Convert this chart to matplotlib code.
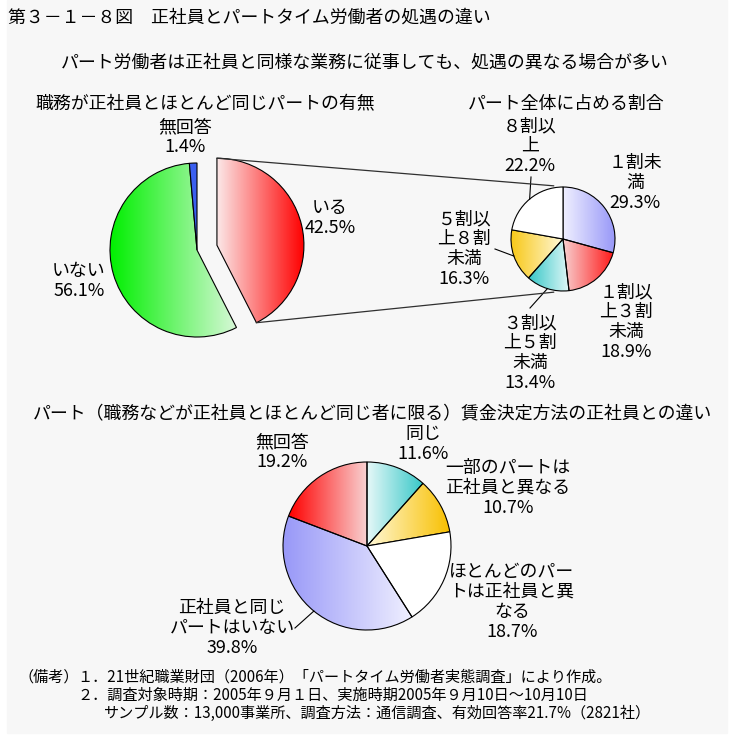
import numpy as np
import matplotlib.pyplot as plt
from matplotlib.patches import Rectangle
from matplotlib.colors import to_rgb

plt.rcParams['font.family'] = ['Noto Sans CJK JP', 'DejaVu Sans']

# pie 1: part-timers doing the same job as regular staff
duty_labels = ['いる', 'いない', '無回答']
duty_values = [42.5, 56.1, 1.4]

# pie 2: share of such part-timers among all part-timers
share_labels = ['１割未\n満', '１割以\n上３割\n未満', '３割以\n上５割\n未満', '５割以\n上８割\n未満', '８割以\n上']
share_values = [29.3, 18.9, 13.4, 16.3, 22.2]

# pie 3: wage decision method vs regular staff
wage_labels = ['同じ', '一部のパートは\n正社員と異なる', 'ほとんどのパー\nトは正社員と異\nなる',
               '正社員と同じ\nパートはいない', '無回答']
wage_values = [11.6, 10.7, 18.7, 39.8, 19.2]

W, H = 734, 740
FS = 12.9


def py(y):
    # picture y (from top) -> data y
    return H - y


def gradient_fill(ax, wedge, left, right):
    # horizontal gradient clipped to the wedge shape
    if right is None:
        wedge.set_facecolor(left)
        return
    ext = wedge.get_path().get_extents()
    t = np.linspace(0, 1, 256)[None, :, None]
    img = (1 - t) * np.array(to_rgb(left)) + t * np.array(to_rgb(right))
    im = ax.imshow(img, extent=[ext.x0, ext.x1, ext.y0, ext.y1], aspect='auto',
                   interpolation='bilinear', zorder=1)
    im.set_clip_path(wedge)
    wedge.set_facecolor('none')


def label(ax, x, y, text, size=FS, ha='center', step=20):
    lines = text.split('\n')
    n = len(lines)
    for i, line in enumerate(lines):
        ax.text(x, py(y + (i - (n - 1) / 2) * step), line, fontsize=size,
                ha=ha, va='center', zorder=5)


def edge_point(wedge, scale=1.0):
    th = np.radians((wedge.theta1 + wedge.theta2) / 2)
    cx, cy = wedge.center
    return cx + wedge.r * scale * np.cos(th), cy + wedge.r * scale * np.sin(th)


def draw_pie(ax, values, center, radius, fills, explode=None):
    wedges, _ = ax.pie(values, startangle=90, counterclock=False,
                       center=(center[0], py(center[1])), radius=radius,
                       explode=explode,
                       wedgeprops=dict(edgecolor='black', linewidth=0.8, zorder=2))
    for w, (a, b) in zip(wedges, fills):
        gradient_fill(ax, w, a, b)
    return wedges


fig = plt.figure(figsize=(W / 100, H / 100), dpi=100)
ax = fig.add_axes([0, 0, 1, 1])
ax.add_patch(Rectangle((7, py(733)), 720, 733, color='#f7f7f7', zorder=0))

# titles
ax.text(8, py(18), '第３－１－８図　正社員とパートタイム労働者の処遇の違い', fontsize=FS, ha='left', va='center')
label(ax, 365, 62, 'パート労働者は正社員と同様な業務に従事しても、処遇の異なる場合が多い')
label(ax, 205, 104, '職務が正社員とほとんど同じパートの有無')
label(ax, 566, 104, 'パート全体に占める割合')
label(ax, 372, 414, 'パート（職務などが正社員とほとんど同じ者に限る）賃金決定方法の正社員との違い')

# pie 1
duty_fills = [('#fbe8e8', '#ff0000'), ('#00f000', '#d8f8d8'), ('#3a5ff0', None)]
w1 = draw_pie(ax, duty_values, (197, 250), 87, duty_fills, explode=[20.5, 0, 0])
duty_pos = [(330, 218), (79, 281), (185, 137)]
for name, v, (x, y) in zip(duty_labels, duty_values, duty_pos):
    label(ax, x, y, f'{name}\n{v}%')

# pie 2
share_fills = [('#f0f0ff', '#9898f8'), ('#f8d0d0', '#ff1818'), ('#38c8c8', '#e4f8f8'),
               ('#f8c818', '#fff8d8'), ('white', None)]
w2 = draw_pie(ax, share_values, (563, 239), 52, share_fills)
share_pos = [(635, 183), (626, 322), (530, 353), (464, 249), (530, 146)]
share_lead = {2: (530, 308), 3: (495, 249), 4: (531, 177)}
for i, (name, v, (x, y)) in enumerate(zip(share_labels, share_values, share_pos)):
    label(ax, x, y, f'{name}\n{v}%')
    if i in share_lead:
        sx, sy = edge_point(w2[i])
        ex, ey = share_lead[i]
        ax.plot([sx, ex], [sy, py(ey)], color='black', lw=0.8, zorder=3)

# lines linking the exploded slice to pie 2
big = w1[0]
c2 = np.array([563, py(239)])
for ang1, ang2 in [(big.theta2, 100), (big.theta1, 260)]:
    p1 = np.array(big.center) + big.r * np.array([np.cos(np.radians(ang1)), np.sin(np.radians(ang1))])
    p2 = c2 + 54 * np.array([np.cos(np.radians(ang2)), np.sin(np.radians(ang2))])
    ax.plot([p1[0], p2[0]], [p1[1], p2[1]], color='#303030', lw=0.9, zorder=3)

# pie 3
wage_fills = [('#e6f8f8', '#38c8c8'), ('#fff8d8', '#f8c000'), ('white', None),
              ('#9898f8', '#f0f0ff'), ('#ff0000', '#f8d4d4')]
w3 = draw_pie(ax, wage_values, (367, 546), 84, wage_fills)
wage_pos = [(423, 444), (508, 488), (512, 602), (232, 628), (282, 452)]
for i, (name, v, (x, y)) in enumerate(zip(wage_labels, wage_values, wage_pos)):
    label(ax, x, y, f'{name}\n{v}%')
sx, sy = edge_point(w3[3])
ax.plot([sx, 295], [sy, py(628)], color='black', lw=0.8, zorder=3)

# notes
NS = 10.9
ax.text(18, py(677), '（備考）', fontsize=NS, ha='left', va='center')
ax.text(77, py(677), '１．21世紀職業財団（2006年）「パートタイム労働者実態調査」により作成。', fontsize=NS, ha='left', va='center')
ax.text(77, py(695), '２．調査対象時期：2005年９月１日、実施時期2005年９月10日～10月10日', fontsize=NS, ha='left', va='center')
ax.text(104, py(713), 'サンプル数：13,000事業所、調査方法：通信調査、有効回答率21.7%（2821社）', fontsize=NS, ha='left', va='center')

ax.set_xlim(0, W)
ax.set_ylim(0, H)
ax.set_aspect('auto')
ax.axis('off')
fig.savefig('out.png', dpi=100, facecolor='white')
